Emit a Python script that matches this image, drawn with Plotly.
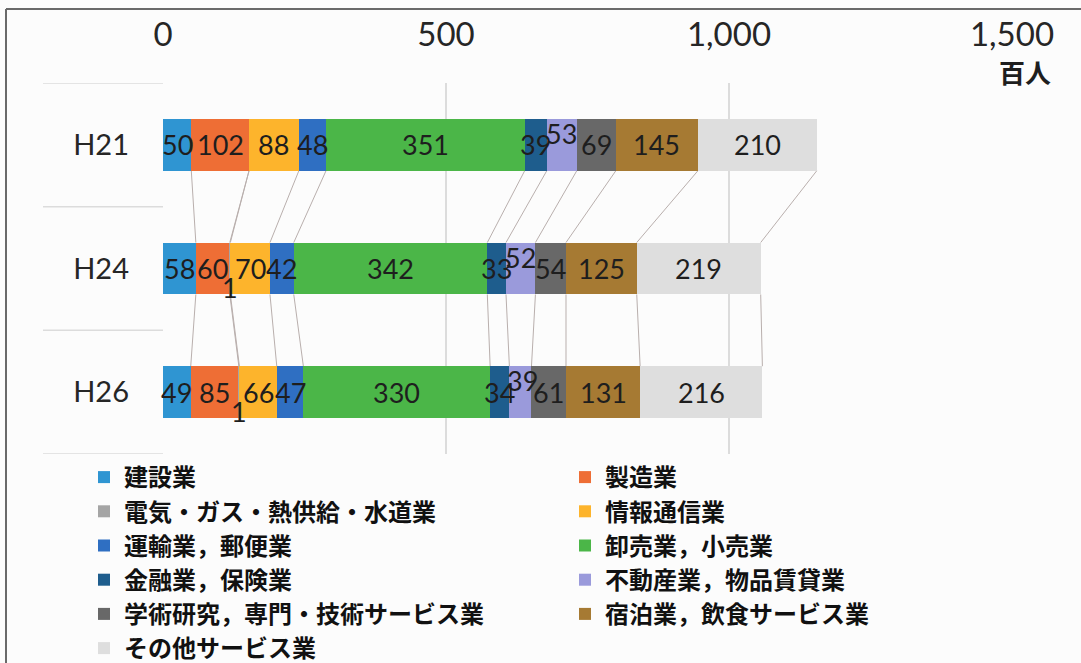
import plotly.graph_objects as go

# 年次別・産業別 従業者数（百人）
categories = ["H21", "H24", "H26"]

construction = [50, 58, 49]          # 建設業
manufacturing = [102, 60, 85]        # 製造業
utilities = [None, 1, 1]             # 電気・ガス・熱供給・水道業
information = [88, 70, 66]           # 情報通信業
transport = [48, 42, 47]             # 運輸業，郵便業
wholesale_retail = [351, 342, 330]   # 卸売業，小売業
finance = [39, 33, 34]               # 金融業，保険業
real_estate = [53, 52, 39]           # 不動産業，物品賃貸業
professional = [69, 54, 61]          # 学術研究，専門・技術サービス業
hospitality = [145, 125, 131]        # 宿泊業，飲食サービス業
other_services = [210, 219, 216]     # その他サービス業

series_names = [
    "建設業", "製造業", "電気・ガス・熱供給・水道業", "情報通信業",
    "運輸業，郵便業", "卸売業，小売業", "金融業，保険業",
    "不動産業，物品賃貸業", "学術研究，専門・技術サービス業",
    "宿泊業，飲食サービス業", "その他サービス業",
]
series_values = [
    construction, manufacturing, utilities, information, transport,
    wholesale_retail, finance, real_estate, professional, hospitality,
    other_services,
]
colors = [
    "#2f95d2", "#ee6e35", "#a5a5a5", "#fdb42c", "#2f6fc2", "#4bb648",
    "#1e5d8d", "#9a9adb", "#686868", "#a67a33", "#dedede",
]

x_ticks = [0, 500, 1000, 1500]

# layout geometry (pixels)
W, H = 1081, 663
ML, MR, MT, MB = 163, 69, 83, 209
PW, PH = W - ML - MR, H - MT - MB
BAR_W = 0.42


def px_x(px):
    return (px - ML) / PW


def px_y(py):
    return (H - MB - py) / PH


# label nudges (pixels) for crowded segments: (series index, category index) -> (xshift, yshift)
label_shift = {
    (7, 0): (0, 11), (7, 1): (0, 11), (7, 2): (2, 12),
    (2, 1): (0, -19), (2, 2): (0, -19),
}

fig = go.Figure()
ypos = list(range(len(categories)))

# legend laid out in two columns: even-indexed series left, odd-indexed right
for i, (name, vals, col) in enumerate(zip(series_names, series_values, colors)):
    fig.add_trace(go.Bar(
        name=name, y=ypos, x=vals, orientation="h",
        marker=dict(color=col, line=dict(width=0)),
        width=BAR_W, textposition="none", hoverinfo="x+name",
        legend="legend" if i % 2 == 0 else "legend2",
    ))

# cumulative ends of each segment
cum = []
running = [0.0] * len(categories)
for vals in series_values:
    row = []
    for k, v in enumerate(vals):
        running[k] += (v or 0)
        row.append(running[k])
    cum.append(row)

shapes = []
annotations = []

# series lines between consecutive bars
for s, row in enumerate(cum):
    for k in range(len(categories) - 1):
        shapes.append(dict(
            type="line", xref="x", yref="y",
            x0=row[k], y0=k + BAR_W / 2, x1=row[k + 1], y1=k + 1 - BAR_W / 2,
            line=dict(color="#b9afad", width=1), layer="below",
        ))

# value labels centred on each segment
for s, (vals, row) in enumerate(zip(series_values, cum)):
    for k, v in enumerate(vals):
        if v is None:
            continue
        dx, dy = label_shift.get((s, k), (0, 0))
        annotations.append(dict(
            x=row[k] - v / 2, y=k, xref="x", yref="y", text=str(v),
            showarrow=False, xanchor="center", yanchor="middle",
            xshift=dx, yshift=dy,
            font=dict(family="Lato, sans-serif", size=27, color="#1e1e1e"),
        ))

# category boxes on the left
for b in [-0.5, 0.5, 1.5, 2.5]:
    shapes.append(dict(
        type="line", xref="paper", yref="y", x0=px_x(43), x1=0, y0=b, y1=b,
        line=dict(color="#dcdcdc", width=1.5),
    ))

# outer frame (top and left)
shapes.append(dict(type="line", xref="paper", yref="paper",
                   x0=px_x(6), x1=px_x(W + 2), y0=px_y(9), y1=px_y(9),
                   line=dict(color="#6a6a6a", width=2)))
shapes.append(dict(type="line", xref="paper", yref="paper",
                   x0=px_x(6), x1=px_x(6), y0=px_y(9), y1=px_y(H + 2),
                   line=dict(color="#6a6a6a", width=2)))

annotations.append(dict(
    xref="paper", yref="paper", x=px_x(1053), y=px_y(71),
    text="百人", showarrow=False, xanchor="right", yanchor="middle",
    font=dict(family="Noto Sans CJK JP", size=26, color="#1e1e1e", weight=700),
))

legend_font = dict(family="Noto Sans CJK JP", size=24, color="#111111", weight=700)
legend_common = dict(
    orientation="v", traceorder="normal", yanchor="top", xanchor="left",
    y=px_y(455), font=legend_font, bgcolor="rgba(0,0,0,0)",
    itemclick=False, tracegroupgap=0,
)

fig.update_layout(
    width=W, height=H,
    margin=dict(l=ML, r=MR, t=MT, b=MB, pad=0, autoexpand=False),
    paper_bgcolor="#fcfcfc", plot_bgcolor="#fcfcfc",
    barmode="stack", bargap=0.58,
    showlegend=True,
    legend=dict(x=px_x(84), **legend_common),
    legend2=dict(x=px_x(565), **legend_common),
    xaxis=dict(
        side="top", range=[0, 1500], tickvals=x_ticks, tickformat=",",
        showgrid=True, gridcolor="#dcdcdc", gridwidth=1.5,
        zeroline=False, showline=False, ticks="",
        ticklabelstandoff=29,
        tickfont=dict(family="Lato, sans-serif", size=33, color="#262626"),
        fixedrange=True,
    ),
    yaxis=dict(
        range=[2.5, -0.5], tickvals=ypos, ticktext=categories,
        showgrid=False, zeroline=False, showline=False, ticks="",
        ticklabelstandoff=33,
        tickfont=dict(family="Lato, sans-serif", size=29, color="#262626"),
        fixedrange=True,
    ),
    shapes=shapes,
    annotations=annotations,
)

fig.write_html("out.html", config={"displayModeBar": False})
